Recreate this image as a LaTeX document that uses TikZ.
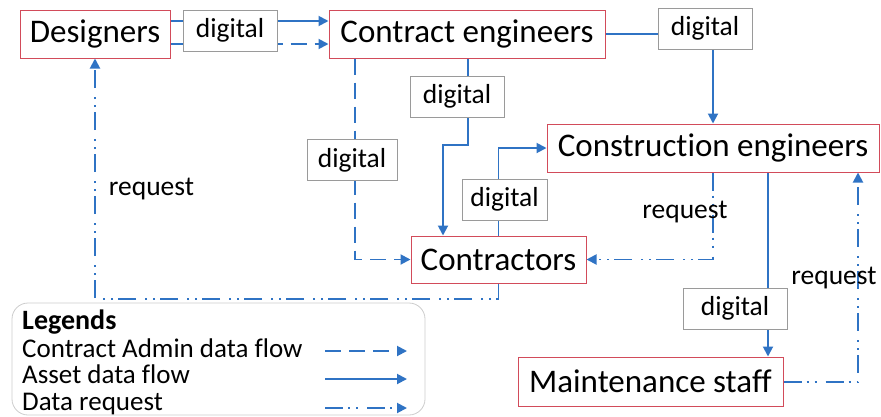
\documentclass[tikz,border=0pt]{standalone}
\usepackage{fontspec}
\setmainfont{Carlito}[RawFeature={-liga}]
\usetikzlibrary{arrows.meta,backgrounds}
\definecolor{flowblue}{HTML}{2F73C4}
\definecolor{boxred}{HTML}{D24B5A}
\definecolor{labelgray}{HTML}{9A9A9A}
\definecolor{legendgray}{HTML}{CCCCCC}
\tikzset{
  actor/.style={draw=boxred, line width=1pt, fill=white, inner sep=0pt,
    font=\fontsize{33}{33}\selectfont},
  tag/.style={draw=labelgray, line width=0.9pt, fill=white, inner sep=0pt,
    minimum height=41pt, font=\fontsize{27.5}{27.5}\selectfont},
  note/.style={inner sep=0pt, font=\fontsize{27.5}{27.5}\selectfont},
  legendtext/.style={inner sep=0pt, anchor=base west, font=\fontsize{27}{27}\selectfont},
  flow/.style={draw=flowblue, line width=1.9pt, -{Triangle[length=10pt,width=10pt]}},
  asset/.style={flow},
  admin/.style={flow, dash pattern=on 16pt off 8pt},
  req/.style={flow, dash pattern=on 18pt off 5pt on 2pt off 6pt on 2pt off 9pt},
}
\begin{document}
\begin{tikzpicture}[x=1pt, y=-1pt]
\useasboundingbox (0,0) rectangle (881,416);

% parties
\node[actor, minimum width=150pt, minimum height=48pt] (des)  at (95,34)      {Designers};
\node[actor, minimum width=276pt, minimum height=48pt] (ce)   at (467,34)     {Contract engineers};
\node[actor, minimum width=332pt, minimum height=48pt] (cons) at (713,148)    {Construction engineers};
\node[actor, minimum width=175pt, minimum height=47pt] (ctr)  at (498.5,259.5){Contractors};
\node[actor, minimum width=265pt, minimum height=49pt] (mnt)  at (650.5,381.5){Maintenance staff};

% channel tags
\node[tag, minimum width=94pt]  (t1) at (230,30.5)  {digital};
\node[tag, minimum width=94pt]  (t2) at (705,28.5)  {digital};
\node[tag, minimum width=94pt]  (t3) at (457,96.5)  {digital};
\node[tag, minimum width=90pt]  (t4) at (352,160)   {digital};
\node[tag, minimum width=85pt]  (t5) at (504.5,199.5){digital};
\node[tag, minimum width=104pt] (t6) at (735,308.5) {digital};

% request labels
\node[note] (r1) at (151.5,189) {request};
\node[note] (r2) at (685,212)   {request};
\node[note] (r3) at (834,278)   {request};

\begin{pgfonlayer}{background}
  \draw[asset] (des.east |- 0,21) -- (ce.west |- 0,21);
  \draw[admin] (des.east |- 0,44) -- (ce.west |- 0,44);
  \draw[asset] (ce.east) -| (cons.north);
  \draw[asset] (ce.south -| 468,0) -- (468,145) -| (ctr.north -| 443,0);
  \draw[admin] (ce.south -| 355,0) |- (ctr.west);
  \draw[asset] (ctr.north) |- (cons.west);
  \draw[req]   (cons.south) |- (ctr.east);
  \draw[req]   (ctr.south) -- (ctr.south |- 0,299) -| (des.south);
  \draw[asset] (cons.south -| 768,0) -- (mnt.north -| 768,0);
  \draw[req]   (mnt.east |- 0,382) -| (cons.south -| 858,0);
\end{pgfonlayer}

% legend
\draw[legendgray, line width=0.8pt, rounded corners=16pt] (12,303) rectangle (425,415);
\node[legendtext, font=\fontsize{28}{28}\selectfont\bfseries] (lg)  at (22,329) {Legends};
\node[legendtext] (lg1) at (22,357) {Contract Admin data flow};
\node[legendtext] (lg2) at (22,383) {Asset data flow};
\node[legendtext] (lg3) at (22,410) {Data request};
\coordinate (a1s) at (325,351); \coordinate (a1e) at (407,351);
\coordinate (a2s) at (325,379); \coordinate (a2e) at (407,379);
\coordinate (a3s) at (325,408); \coordinate (a3e) at (407,408);
\draw[admin] (a1s) -- (a1e);
\draw[asset] (a2s) -- (a2e);
\draw[req]   (a3s) -- (a3e);
\end{tikzpicture}
\end{document}
